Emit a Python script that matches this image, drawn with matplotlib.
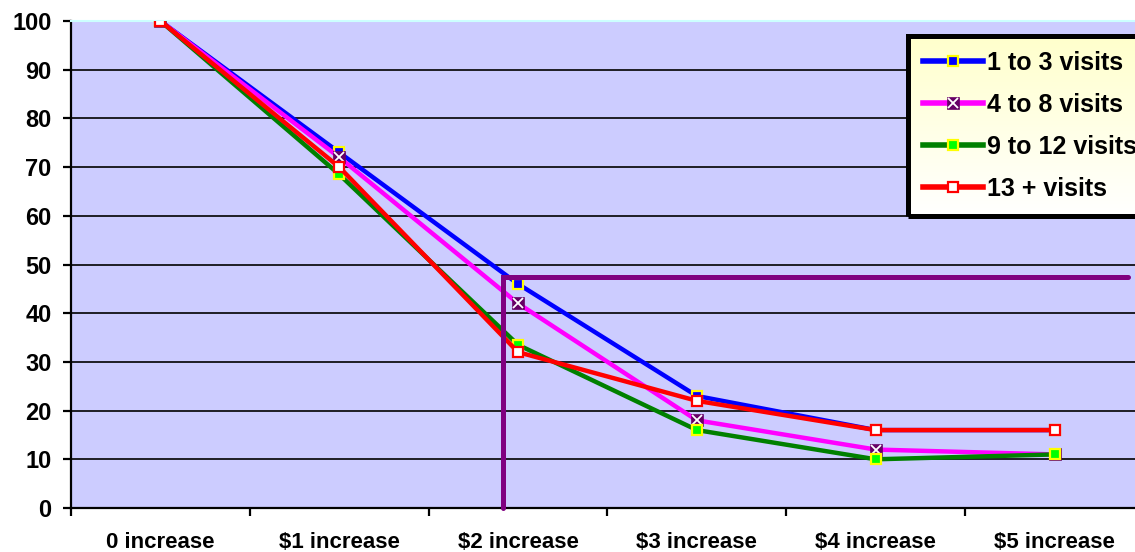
"""Share of customers keeping visits as the price rises, by visit frequency."""

import matplotlib

matplotlib.use("Agg")
import matplotlib.pyplot as plt
import numpy as np
from matplotlib.legend_handler import HandlerTuple

plt.rcParams["font.family"] = ["Liberation Sans", "DejaVu Sans"]
plt.rcParams["font.weight"] = "bold"

categories = ["0 increase", "$1 increase", "$2 increase",
              "$3 increase", "$4 increase", "$5 increase"]
visits_1_3 = [100, 73, 46, 23, 16, 16]
visits_4_8 = [100, 72, 42, 18, 12, 11]
visits_9_12 = [100, 68.5, 33.5, 16, 10, 11]
visits_13_plus = [100, 70, 32, 22, 16, 16]

# price point / retention level marked with the purple guide
guide_x = 1.915
guide_y = 47.4
guide_x_end = 5.41

PLOT_BG = "#CCCCFF"
PURPLE = "#800080"

fig = plt.figure(figsize=(11.35, 5.52), dpi=100, facecolor="white")
ax = fig.add_axes([71 / 1135, 1 - 508 / 552, 1073 / 1135, 487 / 552])
ax.set_facecolor(PLOT_BG)

x = np.arange(len(categories))
lw = 3.2

h_blue, = ax.plot(x, visits_1_3, color="#0000FF", lw=lw, marker="s", ms=7.5,
                  mfc="#0000FF", mec="#FFFF00", mew=1.6, zorder=3)
h_mag, = ax.plot(x, visits_4_8, color="#FF00FF", lw=lw, marker="s", ms=8.2,
                 mfc="#660066", mec="#660066", mew=0.5, zorder=3)
h_magx, = ax.plot(x, visits_4_8, ls="none", marker="x", ms=6.8, mec="white",
                  mew=1.3, zorder=3.1)
h_green, = ax.plot(x, visits_9_12, color="#008000", lw=lw, marker="s", ms=7.5,
                   mfc="#00FF00", mec="#FFFF00", mew=1.6, zorder=3.2)
h_red, = ax.plot(x, visits_13_plus, color="#FF0000", lw=lw, marker="s", ms=7.5,
                 mfc="white", mec="#FF0000", mew=1.6, zorder=3.3)

ax.plot([guide_x, guide_x, guide_x_end], [0, guide_y, guide_y], color=PURPLE,
        lw=3.6, solid_capstyle="round", solid_joinstyle="miter", zorder=4,
        clip_on=False)

ax.set_xlim(-0.5, len(categories) - 0.5)
ax.set_ylim(0, 100)
ax.set_yticks(np.arange(0, 101, 10))
ax.set_xticks(x)
ax.set_xticklabels(categories)
ax.set_xticks(np.arange(-0.5, len(categories) - 0.4, 1.0), minor=True)
ax.tick_params(axis="x", which="major", length=0, pad=17, labelsize=16)
ax.tick_params(axis="x", which="minor", length=6, width=1.6, direction="out")
ax.tick_params(axis="y", length=6, width=1.6, pad=8, labelsize=17)
for label in ax.get_xticklabels() + ax.get_yticklabels():
    label.set_fontweight("bold")

ax.grid(axis="y", color="black", lw=1.2)
ax.set_axisbelow(True)
for side in ("left", "bottom"):
    ax.spines[side].set_linewidth(1.6)
ax.spines["top"].set_color("#CCFFFF")
ax.spines["top"].set_linewidth(1.5)
ax.spines["right"].set_visible(False)

legend = fig.legend(
    [h_blue, (h_mag, h_magx), h_green, h_red],
    ["1 to 3 visits", "4 to 8 visits", "9 to 12 visits", "13 + visits"],
    handler_map={tuple: HandlerTuple(ndivide=1)},
    loc="upper left", bbox_to_anchor=(908 / 1135, 1 - 36 / 552),
    prop={"size": 18, "weight": "bold"}, handlelength=2.4, handletextpad=0.15,
    labelspacing=0.72, borderpad=0.6, borderaxespad=0, fancybox=False,
    facecolor="none", edgecolor="black", framealpha=1,
)
legend.get_frame().set_linewidth(3.6)
legend.set_zorder(5)
for line in legend.get_lines():
    line.set_linewidth(4.0)

# pale yellow-to-white wash behind the legend
fig.canvas.draw()
box = legend.get_window_extent().transformed(fig.transFigure.inverted())
wash = fig.add_axes([box.x0, box.y0, box.width, box.height], zorder=1)
wash.imshow(np.linspace(0, 1, 64).reshape(-1, 1), aspect="auto",
            cmap=matplotlib.colors.LinearSegmentedColormap.from_list(
                "wash", ["#FFFFCC", "#FFFFFF"]),
            extent=(0, 1, 0, 1))
wash.set_axis_off()

fig.savefig("out.png", dpi=100, facecolor="white")
